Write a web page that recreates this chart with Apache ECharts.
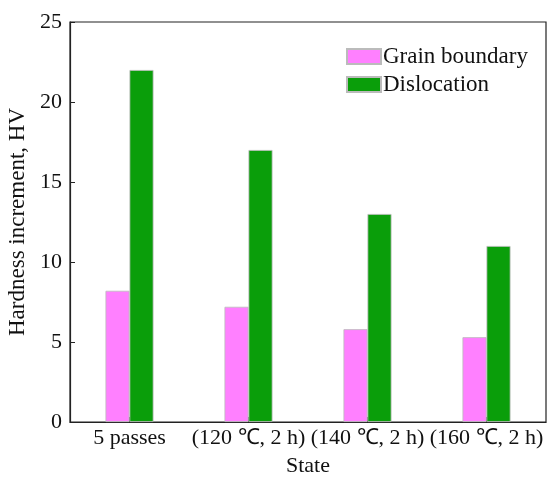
<!DOCTYPE html>
<html><head><meta charset="utf-8">
<script src="https://cdn.jsdelivr.net/npm/echarts@6/dist/echarts.min.js"></script>
<style>html,body{margin:0;padding:0;background:#fff}#c{width:558px;height:481px}</style>
</head><body><div id="c"></div>
<script>
const categories = ['5 passes', '(120 ℃, 2 h)', '(140 ℃, 2 h)', '(160 ℃, 2 h)'];
const grainBoundary = [8.2, 7.2, 5.8, 5.3];
const dislocation = [22, 17, 13, 11];
const yTicks = [0, 5, 10, 15, 20, 25];

const font = 'Liberation Serif, Times New Roman, serif';
const chart = echarts.init(document.getElementById('c'));
chart.setOption({
  animation: false,
  textStyle: { fontFamily: font },
  grid: { left: 70, right: 12, top: 22, bottom: 59, show: true, borderColor: '#222', borderWidth: 1.2,
          containLabel: false, outerBoundsMode: 'none' },
  legend: {
    data: ['Grain boundary', 'Dislocation'],
    orient: 'vertical', left: 341, top: 40,
    itemWidth: 34, itemHeight: 15, itemGap: 5,
    icon: 'rect',
    textStyle: { fontFamily: font, fontSize: 23, color: '#111', padding: [0, 0, 0, -3] }
  },
  xAxis: {
    type: 'category', data: categories,
    name: 'State', nameLocation: 'middle', nameGap: 33,
    nameTextStyle: { fontFamily: font, fontSize: 22, color: '#111' },
    axisLine: { lineStyle: { color: '#222', width: 1.2 } },
    axisTick: { show: true, inside: true, alignWithLabel: true, length: 5, lineStyle: { color: '#222' } },
    axisLabel: { fontFamily: font, fontSize: 22, color: '#111', margin: 5, interval: 0 }
  },
  yAxis: {
    type: 'value', min: yTicks[0], max: yTicks[yTicks.length - 1], interval: 5,
    name: 'Hardness increment, HV', nameLocation: 'middle', nameGap: 36,
    nameTextStyle: { fontFamily: font, fontSize: 23, color: '#111' },
    axisLine: { show: true, lineStyle: { color: '#222', width: 1.2 } },
    axisTick: { show: true, inside: true, length: 5, lineStyle: { color: '#222' } },
    axisLabel: { fontFamily: font, fontSize: 22, color: '#111', margin: 8 },
    splitLine: { show: false }
  },
  series: [
    { name: 'Grain boundary', type: 'bar', data: grainBoundary, barWidth: 24, barGap: '0%',
      itemStyle: { color: '#FF80FF', borderColor: '#bbb', borderWidth: 0.8 } },
    { name: 'Dislocation', type: 'bar', data: dislocation, barWidth: 24, barGap: '0%',
      itemStyle: { color: '#0A9E0A', borderColor: '#bbb', borderWidth: 0.8 } }
  ]
});
</script></body></html>
